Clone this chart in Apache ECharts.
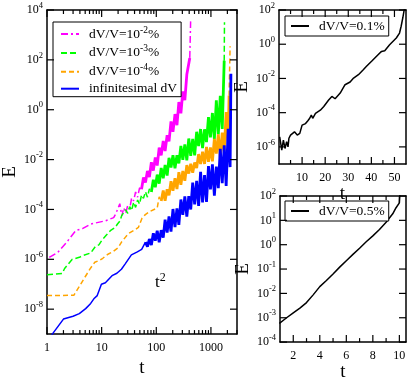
<!DOCTYPE html>
<html>
<head>
<meta charset="utf-8">
<script src="https://cdn.jsdelivr.net/npm/echarts@6/dist/echarts.min.js"></script>
<style>
  html, body { margin: 0; padding: 0; background: #fff; }
  #chart { width: 409px; height: 383px; }
</style>
</head>
<body>
<div id="chart"></div>
<script>
const FONT = "'Liberation Serif', 'DejaVu Serif', serif"

// left panel, [t, E]. each curve: quiet part (dashed), noisy band (solid), final blow-up (dashed)
const magentaSmooth = [
  [1.1, 1.2e-6], [1.58, 1.9e-6], [2.23, 4.5e-6], [3.37, 1.44e-5], [4.45, 1.7e-5], [6.3, 2.6e-5], [11.7, 3.5e-5],
  [16.6, 4.7e-5], [18.2, 6.8e-5], [19.8, 5.7e-5], [21.5, 1.7e-4], [23.4, 5.5e-5], [25.4, 1.15e-4], [27.6, 7.2e-5],
  [30.0, 1.42e-4], [32.6, 1.04e-4], [35.4, 2.9e-4], [38.5, 2.2e-4], [41.8, 5e-4], [45.5, 3.1e-4], [49.4, 7.3e-4],
  [53.7, 6.4e-4]
]
const magentaNoisy = [
  [53.7, 6.4e-4], [58.3, 1.9e-3], [63.4, 1.2e-3], [68.9, 3.5e-3], [74.8, 2e-3], [81.3, 7.8e-3], [88.3, 3.6e-3],
  [95.9, 1.21e-2], [104, 5.8e-3], [113, 3e-2], [123, 1.48e-2], [134, 5.6e-2], [145, 2.2e-2], [158, 9.5e-2],
  [171, 5.4e-2], [186, 0.34], [202, 0.131], [220, 0.67], [239, 0.24], [259, 2.04], [282, 0.72], [306, 5.4],
  [333, 2.4], [362, 25.6], [393, 28], [410, 120]
]
const magentaTail = [[410, 120], [425, 3500]]

const greenSmooth = [
  [1.0, 2.4e-7], [1.9, 2.7e-7], [2.1, 4.3e-7], [2.9, 1.0e-6], [3.9, 1.2e-6], [4.5, 1.4e-6], [6.3, 1.8e-6],
  [7.7, 3.3e-6], [8.9, 3.8e-6], [10.2, 6e-6], [12, 9e-6], [14.4, 1.4e-5], [17.7, 1.9e-5], [19.5, 2.6e-5],
  [21.5, 3.4e-5], [23.4, 5.8e-5], [25.4, 5.2e-5], [27.6, 9.7e-5], [30.0, 7e-5], [32.6, 1.29e-4], [35.4, 9.1e-5],
  [38.5, 1.95e-4], [41.8, 1.21e-4], [45.5, 2.4e-4], [49.4, 1.64e-4], [53.7, 3.8e-4], [58.3, 2.8e-4],
  [63.4, 5.1e-4], [68.9, 3.1e-4], [74.8, 6.7e-4], [81.3, 5e-4]
]
const greenNoisy = [
  [81.3, 5e-4], [88.3, 1.55e-3], [95.9, 7.8e-4], [104, 2.5e-3], [113, 1.08e-3], [123, 4.6e-3], [134, 1.77e-3],
  [145, 6.1e-3], [158, 2.3e-3], [171, 1.18e-2], [186, 4.8e-3], [202, 1.49e-2], [220, 4.5e-3], [239, 1.5e-2],
  [259, 7e-3], [282, 3.5e-2], [306, 9.7e-3], [333, 4.1e-2], [362, 9.4e-3], [393, 7e-2], [427, 1.4e-2],
  [464, 6.7e-2], [504, 1.47e-2], [548, 0.13], [595, 3.5e-2], [647, 0.168], [703, 2.9e-2], [764, 0.164],
  [830, 5e-2], [902, 0.51], [980, 7.7e-2], [1064, 0.74], [1156, 6.6e-2], [1256, 2.4], [1365, 0.103],
  [1483, 3.6], [1611, 0.168], [1750, 93]
]
const greenTail = [[1750, 93], [1770, 3200]]

const orangeSmooth = [
  [1.0, 3.5e-8], [3.1, 3.6e-8], [4.0, 8.9e-8], [5.0, 2e-7], [6.3, 4.5e-7], [7.5, 7.6e-7], [9.0, 8.9e-7],
  [10.5, 1.1e-6], [13, 1.6e-6], [16, 2.0e-6], [20, 2.9e-6], [23.4, 5.1e-6], [30.8, 1.07e-5], [40, 1.5e-5],
  [47, 1.9e-5], [55, 4.5e-5], [63, 6.2e-5], [75, 8.1e-5], [104, 1.15e-4], [113, 3.2e-4], [123, 2.2e-4]
]
const orangeNoisy = [
  [123, 2.2e-4], [134, 5.7e-4], [145, 2.25e-4], [158, 6.4e-4], [171, 3.7e-4], [186, 1.35e-3], [202, 5.6e-4],
  [220, 1.8e-3], [239, 6.6e-4], [259, 3.1e-3], [282, 9.7e-4], [306, 3.5e-3], [333, 1.42e-3], [362, 6e-3],
  [393, 2.75e-3], [427, 6.8e-3], [464, 2.95e-3], [504, 7.7e-3], [548, 4.6e-3], [595, 1.66e-2], [647, 6.7e-3],
  [703, 2.05e-2], [764, 6.7e-3], [830, 3.2e-2], [902, 8.2e-3], [980, 3.1e-2], [1064, 8.5e-3], [1156, 6.7e-2],
  [1256, 1.73e-2], [1365, 0.103], [1483, 1.19e-2], [1611, 0.12], [1750, 2.15e-2], [1901, 0.8], [2066, 4.4e-2],
  [2150, 3.7]
]
const orangeTail = [[2150, 3.7], [2244, 355]]

const blueSmooth = [
  [1.1, 5e-10], [1.25, 1e-9], [2.0, 4e-9], [3.0, 5.2e-9], [3.9, 6.6e-9], [5.1, 1.05e-8], [6.3, 1.7e-8],
  [7.2, 2.6e-8], [8.3, 3.5e-8], [9.9, 1e-7], [11.7, 1.15e-7], [15.5, 2.2e-7], [19, 2.75e-7], [23, 4e-7],
  [27, 6.6e-7], [35, 1.5e-6], [45, 2e-6], [54, 2.5e-6], [63.4, 4.9e-6]
]
const blueNoisy = [
  [63.4, 4.9e-6], [68.9, 3.2e-6], [74.8, 6.5e-6], [81.3, 3.7e-6], [88.3, 1.1e-5], [95.9, 5.6e-6], [104, 1.41e-5],
  [113, 4.8e-6], [123, 1.47e-5], [134, 7.4e-6], [145, 3.9e-5], [158, 1.18e-5], [171, 5.3e-5], [186, 1.29e-5],
  [202, 1.04e-4], [220, 1.95e-5], [239, 1.1e-4], [259, 2.4e-5], [282, 2.5e-4], [306, 6.1e-5], [333, 3.35e-4],
  [362, 5.1e-5], [393, 3.4e-4], [427, 1.0e-4], [464, 1.19e-3], [504, 1.58e-4], [548, 1.41e-3], [595, 1.38e-4],
  [647, 3.2e-3], [703, 1.9e-4], [764, 2.4e-3], [830, 2e-4], [902, 5.5e-3], [980, 6.4e-4], [1064, 6.4e-3],
  [1156, 3.6e-4], [1256, 5.2e-3], [1365, 7.2e-4], [1483, 2.7e-2], [1611, 1.13e-3], [1750, 3.7e-2], [1901, 8.8e-4],
  [2066, 0.17], [2244, 5e-3], [2290, 0.5], [2320, 28]
]

// top right: dV/V = 0.1%
const pct01Data = [
  [0.3, 3.9e-6], [1.2, 6.5e-7], [1.9, 2.5e-6], [2.6, 8.1e-7], [3.3, 2e-6], [3.9, 1.0e-6], [4.3, 3.2e-6], [5.0, 4.9e-6],
  [6.7, 7.6e-6], [7.9, 4.9e-6], [9.0, 6.2e-6], [10, 1.86e-5], [11.5, 2.3e-5], [12.5, 3.4e-5], [13.3, 4.7e-5],
  [14, 7.2e-5], [14.6, 4.7e-5], [15.8, 9.1e-5], [17.9, 1.4e-4], [19.4, 2.3e-4], [21.5, 5.5e-4], [22.9, 8.9e-4],
  [24.3, 6.5e-4], [26.5, 1.4e-3], [28.6, 4.3e-3], [30.8, 6.2e-3], [32.3, 1.05e-2], [34.4, 1.66e-2], [36.5, 3.2e-2],
  [37.9, 5.1e-2], [40.1, 0.1], [42.9, 0.245], [44.4, 0.38], [45.8, 0.42], [47.9, 0.93], [50.8, 2.3], [52.2, 4.5],
  [52.9, 11.2], [53.6, 34], [54.1, 83], [54.4, 126]
]

// bottom right: dV/V = 0.5%
const pct05Data = [
  [0.95, 5.9e-4], [1.5, 1e-3], [2, 1.6e-3], [2.5, 2.5e-3], [3, 4.2e-3], [3.5, 8.7e-3], [4, 1.9e-2], [4.5, 3.4e-2],
  [5, 6.3e-2], [5.5, 0.12], [6, 0.22], [6.5, 0.4], [7, 0.72], [7.5, 1.32], [8, 2.3], [8.5, 4.2], [9, 8.3],
  [9.5, 18.6], [9.75, 33], [10, 52], [10.05, 150]
]

// tick positions and labelled values
const leftXMajor = [1, 10, 100, 1000]
const leftXMinor = [2, 3, 4, 5, 6, 7, 8, 9, 20, 30, 40, 50, 60, 70, 80, 90, 200, 300, 400, 500, 600, 700, 800, 900, 2000, 3000]
const leftYMajor = [1e-8, 1e-6, 1e-4, 1e-2, 1, 1e2, 1e4]
const trXMajor = [10, 20, 30, 40, 50]
const trXMinor = [5, 15, 25, 35, 45]
const trYMajor = [1e-6, 1e-4, 1e-2, 1, 1e2]
const brXMajor = [2, 4, 6, 8, 10]
const brXMinor = [3, 5, 7, 9]
const brYMajor = [1e-4, 1e-3, 1e-2, 1e-1, 1, 10, 100]

const seriesNames = ['dV/V=10^-2%', 'dV/V=10^-3%', 'dV/V=10^-4%', 'infinitesimal dV']
const legendLabels = {
  'dV/V=10^-2%': '{b|dV/V=10}{s|-2}{b|%}',
  'dV/V=10^-3%': '{b|dV/V=10}{s|-3}{b|%}',
  'dV/V=10^-4%': '{b|dV/V=10}{s|-4}{b|%}',
  'infinitesimal dV': '{b|infinitesimal dV}',
  'dV/V=0.1%': '{b|dV/V=0.1%}',
  'dV/V=0.5%': '{b|dV/V=0.5%}'
}

const labelRich = {
  b: { fontFamily: FONT, fontSize: 12, lineHeight: 18, color: '#000' },
  s: { fontFamily: FONT, fontSize: 8.5, verticalAlign: 'top', color: '#000' }
}
const nameStyle = { fontFamily: FONT, fontSize: 19, color: '#000' }
const powLabel = v => '{b|10}{s|' + Math.round(Math.log10(v)) + '}'
const plainLabel = v => '{b|' + v + '}'

// one framed side of a panel
const mkAxis = (grid, type, min, max, position) => ({
  gridIndex: grid,
  type: type,
  min: min,
  max: max,
  position: position,
  axisLine: { show: true, onZero: false, lineStyle: { color: '#000', width: 1.5 } },
  axisTick: { show: false },
  axisLabel: { show: false },
  splitLine: { show: false }
})
const withLabels = (axis, vals, fmt, margin) => Object.assign(axis, {
  axisLabel: { show: true, margin: margin, customValues: vals.slice(), formatter: fmt, rich: labelRich }
})
const withName = (axis, name, gap, rotate) => Object.assign(axis, {
  name: name, nameLocation: 'middle', nameGap: gap, nameRotate: rotate, nameTextStyle: nameStyle
})

const line = (name, data, color, width, dash, xi, yi) => ({
  name: name, type: 'line', xAxisIndex: xi, yAxisIndex: yi, data: data,
  symbol: 'none', lineStyle: { color: color, width: width, type: dash || 'solid' }, itemStyle: { color: color }
})

const legendBox = {
  borderColor: '#000', borderWidth: 1, backgroundColor: '#fff',
  selectedMode: false,
  itemWidth: 18, itemHeight: 14,
  itemStyle: { color: 'rgba(0,0,0,0)', borderWidth: 0 },
  formatter: name => legendLabels[name]
}

const chart = echarts.init(document.getElementById('chart'))

const option = {
  animation: false,
  backgroundColor: '#fff',
  grid: [
    { left: 44, top: 10, width: 193, height: 341 },
    { left: 279, top: 10, width: 127, height: 154 },
    { left: 280, top: 196, width: 126, height: 155 }
  ],
  xAxis: [
    withName(withLabels(mkAxis(0, 'log', 1, 3000, 'bottom'), leftXMajor, plainLabel, 5), 't', 13, 0),
    mkAxis(0, 'log', 1, 3000, 'top'),
    withName(withLabels(mkAxis(1, 'value', 0, 55, 'bottom'), trXMajor, plainLabel, 5), 't', 12, 0),
    mkAxis(1, 'value', 0, 55, 'top'),
    withName(withLabels(mkAxis(2, 'value', 1, 10.5, 'bottom'), brXMajor, plainLabel, 5), 't', 13, 0),
    mkAxis(2, 'value', 1, 10.5, 'top')
  ],
  yAxis: [
    withName(withLabels(mkAxis(0, 'log', 1e-9, 1e4, 'left'), leftYMajor, powLabel, 4), 'E', 27, 90),
    mkAxis(0, 'log', 1e-9, 1e4, 'right'),
    withName(withLabels(mkAxis(1, 'log', 1e-7, 1e2, 'left'), trYMajor, powLabel, 4), 'E', 27, 90),
    mkAxis(1, 'log', 1e-7, 1e2, 'right'),
    withName(withLabels(mkAxis(2, 'log', 1e-4, 1e2, 'left'), brYMajor, powLabel, 4), 'E', 27, 90),
    mkAxis(2, 'log', 1e-4, 1e2, 'right')
  ],
  legend: [
    Object.assign({}, legendBox, {
      data: seriesNames,
      orient: 'vertical',
      left: 53, top: 22,
      padding: [3, 4, 1, 7],
      itemGap: 2.9,
      textStyle: { fontFamily: FONT, fontSize: 13.5, color: '#000', padding: [0, 0, 0, 5], rich: {
        b: { fontFamily: FONT, fontSize: 13.5, lineHeight: 18, color: '#000' },
        s: { fontFamily: FONT, fontSize: 9.5, verticalAlign: 'top', color: '#000' }
      } }
    }),
    Object.assign({}, legendBox, {
      data: ['dV/V=0.1%'],
      left: 285, top: 16,
      padding: [3, 4, 3, 5],
      textStyle: { fontFamily: FONT, fontSize: 13.5, color: '#000', padding: [0, 0, 0, 5], rich: {
        b: { fontFamily: FONT, fontSize: 13.5, color: '#000' }
      } }
    }),
    Object.assign({}, legendBox, {
      data: ['dV/V=0.5%'],
      left: 285, top: 201,
      padding: [3, 4, 3, 5],
      textStyle: { fontFamily: FONT, fontSize: 13.5, color: '#000', padding: [0, 0, 0, 5], rich: {
        b: { fontFamily: FONT, fontSize: 13.5, color: '#000' }
      } }
    })
  ],
  series: [
    line(seriesNames[0], magentaSmooth, '#ff00ff', 1.5, [7, 3, 2, 3], 0, 0),
    line('m2 band', magentaNoisy, '#ff00ff', 2.8, 'solid', 0, 0),
    line('m2 tail', magentaTail, '#ff00ff', 1.5, [7, 3, 2, 3], 0, 0),
    line(seriesNames[1], greenSmooth, '#00ff00', 1.5, [6, 3], 0, 0),
    line('m3 band', greenNoisy, '#00ff00', 2.8, 'solid', 0, 0),
    line('m3 tail', greenTail, '#00ff00', 1.5, [6, 3], 0, 0),
    line(seriesNames[2], orangeSmooth, '#ffa500', 1.5, [5, 3], 0, 0),
    line('m4 band', orangeNoisy, '#ffa500', 2.8, 'solid', 0, 0),
    line('m4 tail', orangeTail, '#ffa500', 1.5, [5, 3], 0, 0),
    line(seriesNames[3], blueSmooth, '#0000ff', 1.5, 'solid', 0, 0),
    line('inf band', blueNoisy, '#0000ff', 2.8, 'solid', 0, 0),
    line('dV/V=0.1%', pct01Data, '#000', 1.5, 'solid', 2, 2),
    line('dV/V=0.5%', pct05Data, '#000', 1.5, 'solid', 4, 4)
  ]
}

chart.setOption(option)

// inward tick marks on all four sides, positioned through each axis's own scale
const tickMark = (x1, y1, x2, y2) => ({
  type: 'line', silent: true, z: 50,
  shape: { x1: x1, y1: y1, x2: x2, y2: y2 },
  style: { stroke: '#000', lineWidth: 1.2 }
})
const tickMarks = []
const addXTicks = (xi, yi, yMin, yMax, vals, len) => {
  const yBottom = chart.convertToPixel({ yAxisIndex: yi }, yMin)
  const yTop = chart.convertToPixel({ yAxisIndex: yi }, yMax)
  vals.forEach(v => {
    const x = chart.convertToPixel({ xAxisIndex: xi }, v)
    tickMarks.push(tickMark(x, yBottom, x, yBottom - len), tickMark(x, yTop, x, yTop + len))
  })
}
const addYTicks = (xi, yi, xMin, xMax, vals, len) => {
  const xLeft = chart.convertToPixel({ xAxisIndex: xi }, xMin)
  const xRight = chart.convertToPixel({ xAxisIndex: xi }, xMax)
  vals.forEach(v => {
    const y = chart.convertToPixel({ yAxisIndex: yi }, v)
    tickMarks.push(tickMark(xLeft, y, xLeft + len, y), tickMark(xRight, y, xRight - len, y))
  })
}
addXTicks(0, 0, 1e-9, 1e4, leftXMajor, 7)
addXTicks(0, 0, 1e-9, 1e4, leftXMinor, 4)
addYTicks(0, 0, 1, 3000, leftYMajor, 7)
addXTicks(2, 2, 1e-7, 1e2, trXMajor, 7)
addXTicks(2, 2, 1e-7, 1e2, trXMinor, 4)
addYTicks(2, 2, 0, 55, trYMajor, 7)
addXTicks(4, 4, 1e-4, 1e2, brXMajor, 7)
addXTicks(4, 4, 1e-4, 1e2, brXMinor, 4)
addYTicks(4, 4, 1, 10.5, brYMajor, 7)

const t2Label = {
  type: 'text', left: 155, top: 272, silent: true,
  style: {
    text: '{a|t}{s|2}',
    rich: {
      a: { fontFamily: FONT, fontSize: 17, lineHeight: 22, fill: '#000' },
      s: { fontFamily: FONT, fontSize: 12, verticalAlign: 'top', fill: '#000' }
    }
  }
}

chart.setOption({ graphic: [t2Label].concat(tickMarks) })
</script>
</body>
</html>
